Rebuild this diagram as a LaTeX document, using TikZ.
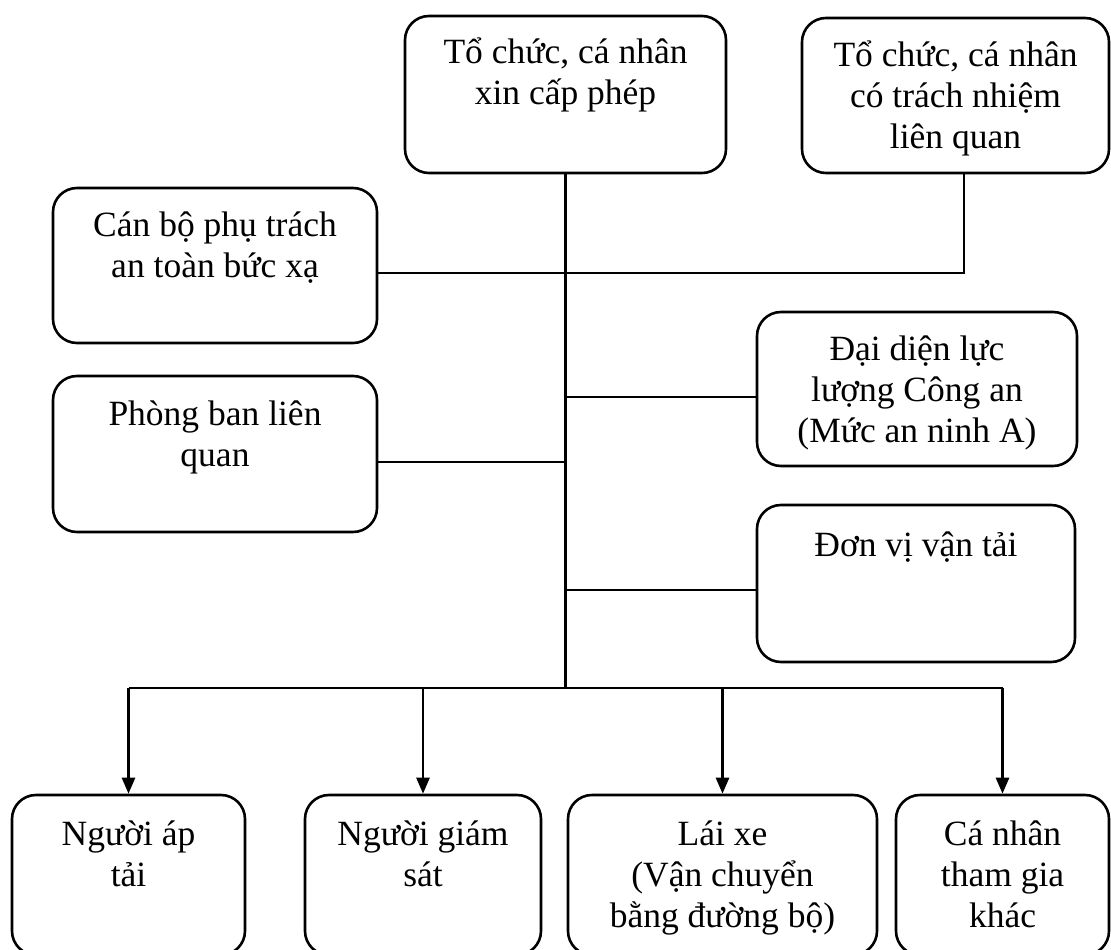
\documentclass[tikz,border=0pt]{standalone}
\usepackage{fontspec}
\setmainfont{Liberation Serif}
\usetikzlibrary{arrows.meta}
\begin{document}
\begin{tikzpicture}[x=1pt,y=-1pt,
  box/.style={draw, line width=2.6pt, rounded corners=24pt, inner sep=0pt, fill=white},
  txt/.style={anchor=north, align=center, inner sep=0pt, font=\fontsize{35.5}{41}\selectfont},
  conn/.style={line width=2.6pt},
  arr/.style={line width=2.6pt, -{Triangle[width=13pt,length=16pt]}}]
\useasboundingbox (0,0) rectangle (1111,950);
% boxes
\node[box, minimum width=321pt, minimum height=157pt] (A) at (565.5,94.5) {};
\node[box, minimum width=307pt, minimum height=155pt] (B) at (955.5,95.5) {};
\node[box, minimum width=324pt, minimum height=155pt] (C) at (215,265.5) {};
\node[box, minimum width=324pt, minimum height=156pt] (D) at (215,454) {};
\node[box, minimum width=320pt, minimum height=154pt] (E) at (917,389) {};
\node[box, minimum width=318pt, minimum height=157pt] (F) at (916,583.5) {};
\node[box, minimum width=233pt, minimum height=160pt] (G) at (128.5,875) {};
\node[box, minimum width=236pt, minimum height=160pt] (H) at (423,875) {};
\node[box, minimum width=309pt, minimum height=160pt] (I) at (722.5,875) {};
\node[box, minimum width=213pt, minimum height=160pt] (J) at (1002.5,875) {};
% texts
\node[txt] (At) at ([yshift=-13pt]A.north) {\rule{0pt}{36pt}Tổ chức, cá nhân\\xin cấp phép};
\node[txt] (Bt) at ([yshift=-14pt]B.north) {\rule{0pt}{36pt}Tổ chức, cá nhân\\có trách nhiệm\\liên quan};
\node[txt] (Ct) at ([yshift=-14pt]C.north) {\rule{0pt}{36pt}Cán bộ phụ trách\\an toàn bức xạ};
\node[txt] (Dt) at ([yshift=-15pt]D.north) {\rule{0pt}{36pt}Phòng ban liên\\quan};
\node[txt] (Et) at ([yshift=-14pt]E.north) {\rule{0pt}{36pt}Đại diện lực\\lượng Công an\\(Mức an ninh A)};
\node[txt] (Ft) at ([yshift=-17pt]F.north) {\rule{0pt}{36pt}Đơn vị vận tải};
\node[txt] (Gt) at ([yshift=-16pt]G.north) {\rule{0pt}{36pt}Người áp\\tải};
\node[txt] (Ht) at ([yshift=-16pt]H.north) {\rule{0pt}{36pt}Người giám\\sát};
\node[txt] (It) at ([yshift=-16pt]I.north) {\rule{0pt}{36pt}Lái xe\\(Vận chuyển\\bằng đường bộ)};
\node[txt] (Jt) at ([yshift=-16pt]J.north) {\rule{0pt}{36pt}Cá nhân\\tham gia\\khác};
% connector points
\coordinate (bus) at (566,688);
\coordinate (bc) at (964,273);
% connectors
\draw[conn] (A.south) -- (A.south |- bus);
\draw[conn] (C.east |- bc) -- (bc) -- (bc |- B.south);
\draw[conn] (E.west |- 0,397) -- (A.south |- 0,397);
\draw[conn] (D.east |- 0,462) -- (A.south |- 0,462);
\draw[conn] (F.west |- 0,590) -- (A.south |- 0,590);
\draw[conn] (G.north |- bus) -- (J.north |- bus);
\draw[arr] (G.north |- bus) -- (G.north);
\draw[arr] (H.north |- bus) -- (H.north);
\draw[arr] (I.north |- bus) -- (I.north);
\draw[arr] (J.north |- bus) -- (J.north);
\end{tikzpicture}
\end{document}
